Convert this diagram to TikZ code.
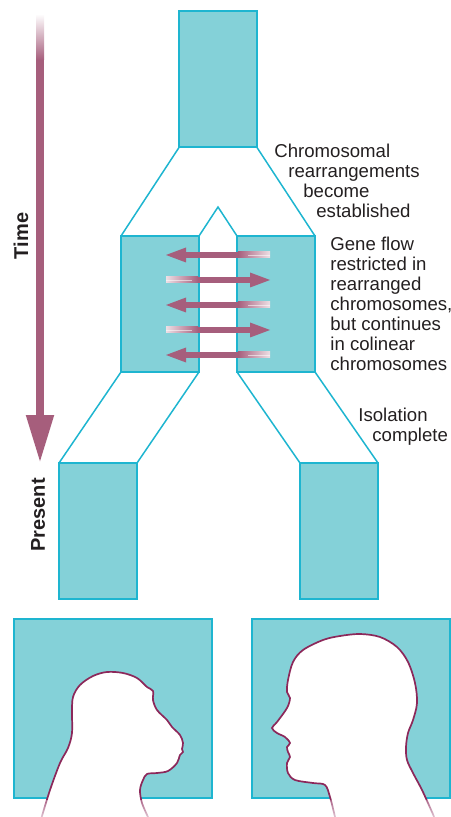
\documentclass[tikz,border=0pt]{standalone}
\usepackage{fontspec}
\setmainfont{Liberation Sans}
\usetikzlibrary{arrows.meta,fadings}

\definecolor{stemfill}{RGB}{132,209,216}
\definecolor{stemline}{RGB}{30,181,208}
\definecolor{flow}{RGB}{166,94,124}
\definecolor{profile}{RGB}{140,40,90}
\definecolor{ink}{RGB}{35,31,32}

\tikzfading[name=fade up, top color=transparent!100, bottom color=transparent!0]

\begin{document}
\begin{tikzpicture}[x=0.5pt,y=-0.5pt,
    lineage/.style={draw=stemline,fill=stemfill,line width=1pt,inner sep=0pt,outer sep=0pt,
      minimum width=39pt,minimum height=68pt},
    portrait/.style={draw=stemline,fill=stemfill,line width=1pt,inner sep=0pt,outer sep=0pt,
      minimum width=99pt,minimum height=89.5pt},
    branch/.style={draw=stemline,line width=0.75pt},
    split/.style={white,opacity=.55,line width=0.35pt},
    note/.style={text=ink,font=\fontsize{9.3}{10}\selectfont,align=left,anchor=north west,inner sep=0pt},
    axislabel/.style={text=ink,font=\fontsize{10}{12}\selectfont\bfseries,rotate=90,inner sep=0pt}]
  \useasboundingbox (0,0) rectangle (450,817);

  % time axis
  \coordinate (t0) at (40,15);
  \coordinate (t1) at (40,463);
  \draw[flow,line width=4pt,-{Triangle[length=24pt,width=13pt]}] (t0) -- (t1);
  \shade[top color=white,bottom color=flow] (36,14) rectangle (44,60);
  \node[axislabel] (time) at (21,236) {Time};
  \node[axislabel] (present) at (38,515) {Present};

  % lineages
  \node[lineage] (anc) at (218,79.5) {};
  \node[lineage] (midL) at (160,304) {};
  \node[lineage] (midR) at (276,304) {};
  \node[lineage] (lowL) at (98,531) {};
  \node[lineage] (lowR) at (339,531) {};
  \coordinate (peak) at (218,207);
  \draw[branch] (anc.south west) -- (midL.north west);
  \draw[branch] (anc.south east) -- (midR.north east);
  \draw[branch] (midL.north east) -- (peak) -- (midR.north west);
  \draw[branch] (midL.south west) -- (lowL.north west);
  \draw[branch] (midL.south east) -- (lowL.north east);
  \draw[branch] (midR.south west) -- (lowR.north west);
  \draw[branch] (midR.south east) -- (lowR.north east);

  % gene flow between the two
  \foreach \y in {255,305,355}{
    \fill[flow] (166,\y) -- (186,\y-7.5) -- (186,\y+7.5) -- cycle;
    \fill[flow] (184,\y-3) rectangle (238,\y+3);
    \shade[left color=flow,right color=flow!20] (238,\y-3) rectangle (270,\y+3);
    \draw[split] (248,\y) -- (270,\y);
  }
  \foreach \y in {280,330}{
    \fill[flow] (270,\y) -- (250,\y-7.5) -- (250,\y+7.5) -- cycle;
    \fill[flow] (198,\y-3) rectangle (252,\y+3);
    \shade[left color=flow!20,right color=flow] (166,\y-3) rectangle (198,\y+3);
    \draw[split] (166,\y) -- (192,\y);
  }

  \node[note] (rearr) at (274,144) {Chromosomal\\\hspace*{7pt}rearrangements\\\hspace*{14.5pt}become\\\hspace*{21pt}established};
  \node[note] (flowtxt) at (330,237) {Gene flow\\restricted in\\rearranged\\chromosomes,\\but continues\\in colinear\\chromosomes};
  \node[note] (isol) at (358,408) {Isolation\\\hspace*{7pt}complete};

  % profiles
  \node[portrait] (apebox) at (113,708.5) {};
  \node[portrait] (manbox) at (350.5,708.5) {};
  \def\apehead{plot[smooth,tension=.55] coordinates {(41.7,817) (50,790) (60,763) (68,748)
    (72,733) (72,713) (73,697) (80,685) (93,676) (107,672) (123,673) (137,678) (147,687)
    (153,691) (153,700) (157,710) (167,720) (172,727) (180,735) (183,743) (182,749)
    (183,752) (180,755) (177,763) (168,771) (157,773) (147,774) (143,780) (140,790)
    (142,803) (148,817)}}
  \def\manhead{plot[smooth,tension=.55] coordinates {(335,817) (330,797) (325,785)
    (313,783) (295,780) (288,773) (287,763) (290,757) (288,752) (287,747) (290,743)
    (285,737) (277,733) (272,728) (277,722) (287,708) (290,698) (287,692) (288,680)
    (293,662) (303,650) (323,640) (340,636) (360,634) (380,637) (397,647) (408,662)
    (415,683) (417,703) (413,720) (408,733) (406,747) (407,760) (413,773) (422,790)
    (432,812) (434,817)}}
  \fill[white] \apehead -- cycle;
  \draw[profile,line width=0.85pt] \apehead;
  \fill[white] \manhead -- cycle;
  \draw[profile,line width=0.85pt] \manhead;
  % necks fade out below the frames
  \begin{scope}
    \clip (0,800) rectangle (450,817);
    \fill[white,path fading=fade up] (30,788) rectangle (160,828);
    \fill[white,path fading=fade up] (320,788) rectangle (445,828);
  \end{scope}
\end{tikzpicture}
\end{document}
